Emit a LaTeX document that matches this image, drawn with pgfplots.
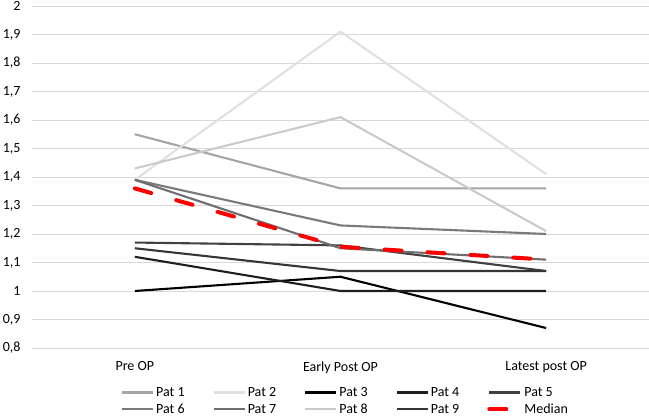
\documentclass[border=0pt]{standalone}
\usepackage{fontspec}
\setmainfont{Carlito}
\usepackage{pgfplots}
\pgfplotsset{compat=1.18}
\definecolor{c1}{HTML}{A5A5A5}
\definecolor{c2}{HTML}{E0E0E0}
\definecolor{c3}{HTML}{000000}
\definecolor{c4}{HTML}{1E1E1E}
\definecolor{c5}{HTML}{404040}
\definecolor{c6}{HTML}{7A7A7A}
\definecolor{c7}{HTML}{6E6E6E}
\definecolor{c8}{HTML}{CACACA}
\definecolor{c9}{HTML}{363636}
\definecolor{gridc}{HTML}{D9D9D9}
\newcommand{\chartfont}{\fontsize{14}{17}\selectfont}
\begin{document}
\begin{tikzpicture}
\begin{axis}[
  at={(0pt,0pt)}, anchor=south west,
  scale only axis, width=617pt, height=342pt,
  xmin=-0.5, xmax=2.5, ymin=0.8, ymax=2,
  xtick={0,1,2}, xticklabels={Pre OP, Early Post OP, Latest post OP},
  ytick={0.8,0.9,1,1.1,1.2,1.3,1.4,1.5,1.6,1.7,1.8,1.9,2},
  /pgf/number format/use comma,
  /pgf/number format/fixed,
  /pgf/number format/precision=1,
  /pgf/number format/assume math mode=true,
  tick label style={font=\chartfont},
  axis line style={draw=none},
  axis x line*=bottom,
  major tick length=0pt,
  ymajorgrids, grid style={gridc, line width=0.9pt},
  yticklabel style={xshift=-8pt},
  xticklabel style={yshift=-10pt},
  legend columns=5,
  legend cell align=left,
  legend style={at={(0.5,0)}, anchor=north, yshift=-35pt, xshift=5pt, draw=none, fill=none,
    font=\chartfont,
    /tikz/every even column/.append style={column sep=26pt},
    row sep=2pt, nodes={inner sep=2pt}},
  legend image code/.code={\draw[#1] (0pt,0pt) -- (31pt,0pt);},
  every axis plot/.append style={line width=2.1pt, line join=round},
]
\addplot[c1, line width=2.1pt] coordinates {(0,1.55) (1,1.36) (2,1.36)};
\addlegendentry{Pat 1}
\addplot[c2, line width=2.1pt] coordinates {(0,1.39) (1,1.91) (2,1.41)};
\addlegendentry{Pat 2}
\addplot[c3, line width=2.1pt] coordinates {(0,1.00) (1,1.05) (2,0.87)};
\addlegendentry{Pat 3}
\addplot[c4, line width=2.1pt] coordinates {(0,1.12) (1,1.00) (2,1.00)};
\addlegendentry{Pat 4}
\addplot[c5, line width=2.1pt] coordinates {(0,1.17) (1,1.16) (2,1.07)};
\addlegendentry{Pat 5}
\addplot[c6, line width=2.1pt] coordinates {(0,1.39) (1,1.23) (2,1.20)};
\addlegendentry{Pat 6}
\addplot[c7, line width=2.1pt] coordinates {(0,1.39) (1,1.15) (2,1.11)};
\addlegendentry{Pat 7}
\addplot[c8, line width=2.1pt] coordinates {(0,1.43) (1,1.61) (2,1.21)};
\addlegendentry{Pat 8}
\addplot[c9, line width=2.1pt] coordinates {(0,1.15) (1,1.07) (2,1.07)};
\addlegendentry{Pat 9}
\addplot[red, line width=4pt, line cap=round, dash pattern=on 17pt off 26pt] coordinates {(0,1.36) (1,1.155) (2,1.11)};
\addlegendentry{Median}
\end{axis}
\pgfresetboundingbox
\path (-32pt,-71pt) rectangle (617pt,348pt);
\end{tikzpicture}
\end{document}
